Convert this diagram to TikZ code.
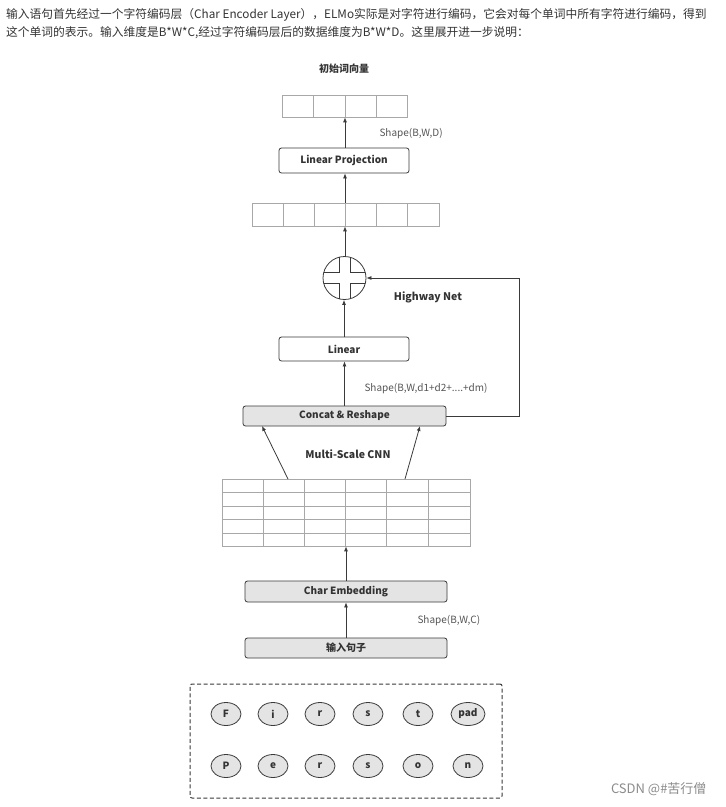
\documentclass[tikz,border=0pt]{standalone}
\usepackage{fontspec}
\setmainfont{Noto Sans CJK SC}
\usetikzlibrary{arrows.meta,calc,shapes.geometric}
\definecolor{linec}{HTML}{3A3A3A}
\definecolor{cellc}{HTML}{A8A8A8}
\definecolor{boxfill}{HTML}{E4E4E4}
\definecolor{txtc}{HTML}{333333}
\definecolor{shapec}{HTML}{555555}
\tikzset{
  arr/.style={draw=linec, line width=0.8pt, -{Latex[length=5pt,width=4pt]}},
  wbox/.style={draw=linec, line width=0.8pt, fill=white, rounded corners=2.5pt, inner sep=0pt, font=\fontsize{10}{12}\selectfont\bfseries, text=txtc},
  gbox/.style={wbox, fill=boxfill},
  arrbox/.style={draw=cellc, line width=0.7pt, inner sep=0pt},
  cellline/.style={draw=cellc, line width=0.7pt},
  shapelab/.style={font=\fontsize{10}{12}\selectfont, text=shapec},
  boldlab/.style={font=\fontsize{10.5}{12}\selectfont\bfseries, text=txtc},
  chr/.style={ellipse, draw=linec, line width=0.8pt, fill=boxfill, minimum width=30pt, minimum height=23pt, inner sep=0pt, font=\fontsize{10}{12}\selectfont\bfseries, text=txtc}
}
\begin{document}
\begin{tikzpicture}[x=1pt,y=-1pt]
\useasboundingbox[fill=white] (0,0) rectangle (726,807);
% header
\node[anchor=base west, inner sep=0pt, text=txtc, font=\fontsize{11.75}{14}\selectfont] (h1) at (6,18) {输入语句首先经过一个字符编码层（Char Encoder Layer），ELMo实际是对字符进行编码，它会对每个单词中所有字符进行编码，得到};
\node[anchor=base west, inner sep=0pt, text=txtc, font=\fontsize{11.75}{14}\selectfont] (h2) at (6,36) {这个单词的表示。输入维度是B*W*C,经过字符编码层后的数据维度为B*W*D。这里展开进一步说明：};
% title
\node[boldlab, font=\fontsize{10}{12}\selectfont\bfseries] (title) at (344,69) {初始词向量};
% top array
\node[arrbox, minimum width=125pt, minimum height=22pt] (toparr) at (344.5,106) {};
\foreach \x in {313,345,376} \draw[cellline] (\x,95) -- (\x,117);
% Linear projection
\node[wbox, minimum width=130pt, minimum height=25pt] (lp) at (344,160.5) {Linear Projection};
\node[shapelab, anchor=west] (s1) at (376,134) {Shape(B,W,D)};
% second array
\node[arrbox, minimum width=187pt, minimum height=23pt] (arr2) at (345.5,214.5) {};
\foreach \x in {283,314,345,376,407} \draw[cellline] (\x,203) -- (\x,226);
% circle
\node[circle, draw=linec, line width=0.8pt, minimum size=43pt, inner sep=0pt] (plus) at (344.5,278) {};
\begin{scope}
\clip (344.5,278) circle (21.5);
\draw[linec, line width=0.8pt] (339,250) -- (339,272.5) -- (310,272.5) (310,283.5) -- (339,283.5) -- (339,310)
  (350,310) -- (350,283.5) -- (380,283.5) (380,272.5) -- (350,272.5) -- (350,250);
\end{scope}
\node[boldlab] (hw) at (428,297) {Highway Net};
% linear
\node[wbox, minimum width=130pt, minimum height=24pt] (lin) at (344,349) {Linear};
\node[shapelab, anchor=west] (s2) at (361,389) {Shape(B,W,d1+d2+....+dm)};
% concat
\node[gbox, minimum width=203pt, minimum height=20pt] (cat) at (344.5,416) {Concat \& Reshape};
\node[boldlab] (ms) at (348,454) {Multi-Scale CNN};
% grid
\node[arrbox, minimum width=248pt, minimum height=67pt] (grid) at (346,512.5) {};
\foreach \x in {263,304,345,386,428} \draw[cellline] (\x,479) -- (\x,546);
\foreach \y in {492,506,519,533} \draw[cellline] (222,\y) -- (470,\y);
% char embedding
\node[gbox, minimum width=202pt, minimum height=21pt] (ce) at (346,591.5) {Char Embedding};
\node[shapelab, anchor=west] (s3) at (414,621) {Shape(B,W,C)};
\node[gbox, minimum width=202pt, minimum height=20pt] (inp) at (346,648) {输入句子};
% dashed box
\node[draw=linec, dash pattern=on 4pt off 2.5pt, line width=1pt, rounded corners=2pt, minimum width=312pt, minimum height=114pt] (dbox) at (346,741) {};
\foreach \lab/\x [count=\i] in {F/226,i/273,r/320,s/368,t/418}
  \node[chr] (a\i) at (\x,714) {\lab};
\node[chr, minimum width=34pt] (a6) at (468,714) {pad};
\foreach \lab/\x [count=\i] in {P/226,e/273,r/320,s/368,o/418,n/468}
  \node[chr] (b\i) at (\x,766) {\lab};
% arrows
\draw[arr] (inp.north) -- (ce.south);
\draw[arr] (ce.north) -- (grid.south -| ce.north);
\coordinate (g1) at (288,479);
\coordinate (g2) at (405,479);
\coordinate (c1) at (262,426);
\coordinate (c2) at (420,426);
\draw[arr] (g1) -- (c1);
\draw[arr] (g2) -- (c2);
\draw[arr] (cat.north) -- (lin.south -| cat.north);
\draw[arr] (lin.north) -- (plus.south -| lin.north);
\coordinate (fb) at (519,416);
\draw[arr] (cat.east) -- (fb) |- (plus.east);
\draw[arr] (plus.north -| 345,0) -- (arr2.south -| 345,0);
\draw[arr] (arr2.north -| 345,0) -- (lp.south -| 345,0);
\draw[arr] (lp.north -| 345,0) -- (toparr.south -| 345,0);
% watermark
\node[anchor=east, text=black!45, font=\fontsize{13}{15}\selectfont] (wm) at (710,789) {CSDN @\#苦行僧};
\end{tikzpicture}
\end{document}
